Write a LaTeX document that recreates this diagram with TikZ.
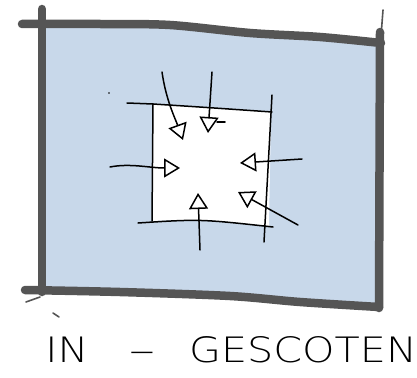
\documentclass[tikz,border=0pt]{standalone}
\usepackage{fontspec}
\usepackage{graphicx}
\newfontfamily\handfont{DejaVu Sans ExtraLight}
\usetikzlibrary{arrows.meta}
\definecolor{wallgray}{HTML}{555555}
\definecolor{roomblue}{HTML}{C8D8EA}
\tikzset{
  wall/.style={draw=wallgray, line width=8.5pt, line cap=round, line join=round},
  thinwall/.style={draw=wallgray, line width=1.6pt, line cap=round},
  sketch/.style={draw=black, line width=1.5pt, line cap=round, line join=round},
  inarrow/.style={sketch, -{Triangle[open, length=16pt, width=19pt, line width=1.5pt]}},
  handtext/.style={inner sep=0pt, anchor=base, font=\handfont\fontsize{35}{40}\selectfont}
}
\begin{document}
\begin{tikzpicture}[x=1pt, y=-1pt]
\useasboundingbox (0,0) rectangle (417,377);
% room fill
\fill[roomblue] plot[smooth] coordinates {(42,24) (100,24) (170,25) (250,33) (320,37) (380,42)}
  -- (380,307) -- plot[smooth] coordinates {(378,307) (300,302) (230,296) (120,292) (42,292)} -- cycle;
% walls
\draw[wall] plot[smooth] coordinates {(22,24) (100,24) (170,25) (250,33) (320,37) (381,43)};
\draw[wall] plot[smooth] coordinates {(25,290) (120,292) (230,296) (300,302) (379,307)};
\draw[wall] (42,9) -- (42,292);
\draw[wall] (380,32) -- (379,308);
\draw[thinwall] (383,10) -- (381,36);
\draw[thinwall] (26,302) -- (40,297);
\draw[thinwall] (53,313) -- (59,317);
% inner space
\coordinate (tl) at (153,104);
\coordinate (tr) at (271,112);
\coordinate (br) at (269,226);
\coordinate (bl) at (152,221);
\fill[white] (tl) .. controls (200,107) .. (tr) -- (br) .. controls (200,219) .. (bl) -- cycle;
\draw[sketch] (127,103) -- (tl) .. controls (200,107) .. (272,112);
\draw[sketch] (138,223) .. controls (200,219) .. (273,227);
\draw[sketch] (tl) -- (bl);
\draw[sketch] (272,95) -- (264,242);
% arrows
\coordinate (a1s) at (162,72);  \coordinate (a1e) at (183,140);
\coordinate (a2s) at (212,72);  \coordinate (a2e) at (208,133);
\coordinate (a3s) at (110,167); \coordinate (a3e) at (180,168);
\coordinate (a4s) at (302,159); \coordinate (a4e) at (240,163);
\coordinate (a5s) at (200,250); \coordinate (a5e) at (198,193);
\coordinate (a6s) at (298,225); \coordinate (a6e) at (238,192);
\draw[inarrow] (a1s) .. controls (166,100) and (175,118) .. (a1e);
\draw[inarrow] (a2s) -- (a2e);
\draw[sketch] (217,122) -- (225,122);
\draw[inarrow] (a3s) .. controls (130,163) and (150,168) .. (a3e);
\draw[inarrow] (a4s) -- (a4e);
\draw[inarrow] (a5s) -- (a5e);
\draw[inarrow] (a6s) -- (a6e);
\fill[black] (109,93) circle (0.9pt);
% caption
\node[handtext] (cin) at (67,362) {\scalebox{1.18}[1]{IN}};
\node[handtext] (cdash) at (142,362) {\scalebox{1.5}[1]{–}};
\node[handtext] (cword) at (303,362) {\scalebox{1.18}[1]{GESCOTEN}};
\end{tikzpicture}
\end{document}
